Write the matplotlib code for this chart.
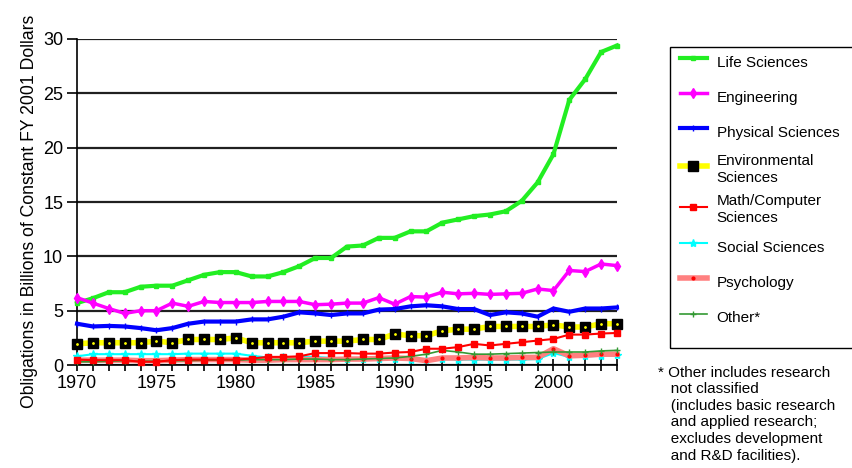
import numpy as np
import matplotlib
matplotlib.use("Agg")
import matplotlib.pyplot as plt
from matplotlib.patches import Rectangle

plt.rcParams['font.family'] = ['Liberation Sans', 'DejaVu Sans']

years = list(range(1970, 2005))

life_sciences = [5.7, 6.15, 6.7, 6.7, 7.2, 7.3, 7.3, 7.8, 8.3, 8.55,
                 8.55, 8.15, 8.15, 8.55, 9.1, 9.85, 9.85, 10.9, 11.0, 11.7,
                 11.7, 12.3, 12.3, 13.1, 13.4, 13.7, 13.85, 14.15, 15.1, 16.8,
                 19.4, 24.4, 26.3, 28.8, 29.4]
engineering = [6.2, 5.7, 5.2, 4.75, 5.0, 5.0, 5.7, 5.4, 5.85, 5.75,
               5.75, 5.75, 5.85, 5.85, 5.85, 5.55, 5.6, 5.7, 5.7, 6.2,
               5.6, 6.3, 6.25, 6.7, 6.55, 6.6, 6.5, 6.55, 6.6, 7.0,
               6.85, 8.7, 8.6, 9.3, 9.15]
physical = [3.8, 3.55, 3.6, 3.55, 3.4, 3.2, 3.4, 3.8, 4.0, 4.0,
            4.0, 4.2, 4.2, 4.45, 4.85, 4.75, 4.6, 4.75, 4.75, 5.1,
            5.15, 5.4, 5.5, 5.4, 5.15, 5.15, 4.6, 4.85, 4.75, 4.45,
            5.2, 4.9, 5.2, 5.2, 5.3]
environmental = [1.95, 2.05, 2.05, 2.05, 2.05, 2.2, 2.05, 2.35, 2.35, 2.35,
                 2.5, 2.05, 2.05, 2.05, 2.05, 2.2, 2.2, 2.2, 2.35, 2.35,
                 2.85, 2.7, 2.7, 3.15, 3.3, 3.3, 3.55, 3.55, 3.55, 3.55,
                 3.7, 3.5, 3.5, 3.8, 3.8]
math_computer = [0.5, 0.45, 0.45, 0.45, 0.3, 0.3, 0.45, 0.5, 0.5, 0.5,
                 0.5, 0.6, 0.75, 0.75, 0.8, 1.1, 1.1, 1.1, 1.05, 1.05,
                 1.15, 1.2, 1.5, 1.5, 1.65, 1.95, 1.8, 1.95, 2.1, 2.25,
                 2.4, 2.8, 2.8, 2.9, 2.95]
social = [0.8, 1.0, 1.0, 1.0, 1.0, 1.0, 1.0, 1.05, 1.05, 1.05,
          1.05, 0.85, 0.7, 0.7, 0.75, 0.75, 0.65, 0.6, 0.55, 0.55,
          0.6, 0.5, 0.45, 0.55, 0.5, 0.5, 0.5, 0.5, 0.5, 0.55,
          1.1, 0.75, 0.8, 0.85, 0.9]
psychology = [0.45, 0.45, 0.45, 0.45, 0.4, 0.4, 0.45, 0.5, 0.5, 0.5,
              0.5, 0.45, 0.45, 0.5, 0.5, 0.5, 0.5, 0.55, 0.55, 0.6,
              0.65, 0.6, 0.4, 0.65, 0.65, 0.7, 0.65, 0.65, 0.7, 0.7,
              1.5, 0.85, 0.9, 1.0, 1.0]
other = [0.3, 0.3, 0.35, 0.4, 0.35, 0.35, 0.4, 0.4, 0.45, 0.45,
         0.45, 0.5, 0.5, 0.5, 0.55, 0.55, 0.5, 0.5, 0.55, 0.6,
         0.65, 0.8, 1.0, 1.35, 1.2, 1.0, 1.0, 1.05, 1.1, 1.15,
         1.2, 1.2, 1.2, 1.3, 1.35]

fig = plt.figure(figsize=(8.53, 4.68), dpi=100)
ax = fig.add_axes([0.0903, 0.220, 0.6330, 0.6967])

ax.plot(years, life_sciences, color='#22ee22', lw=3, marker='s', ms=2.5,
        label='Life Sciences', clip_on=False, zorder=5)
ax.plot(years, engineering, color='#ff00ff', lw=2.5, marker='d', ms=5,
        label='Engineering', clip_on=False, zorder=5)
ax.plot(years, physical, color='#0000ff', lw=3, marker='|', ms=4,
        label='Physical Sciences', clip_on=False, zorder=5)
ax.plot(years, environmental, color='#ffff00', lw=4, marker='s', ms=7,
        mfc='black', mec='black', label='Environmental\nSciences',
        clip_on=False, zorder=4)
ax.plot(years, environmental, ls='none', marker='.', ms=2, color='#ffff00',
        clip_on=False, zorder=4)
ax.plot(years, math_computer, color='#ff0000', lw=1.5, marker='s', ms=5,
        label='Math/Computer\nSciences', clip_on=False, zorder=4)
ax.plot(years, social, color='#00ffff', lw=1.5, marker='*', ms=6,
        label='Social Sciences', clip_on=False, zorder=3)
ax.plot(years, psychology, color='#ff8080', lw=4, marker='.', ms=4,
        mfc='#ff0000', mec='#ff0000', label='Psychology', clip_on=False, zorder=3)
ax.plot(years, other, color='#339933', lw=1.2, marker='+', ms=5,
        label='Other*', clip_on=False, zorder=3)

ax.set_xlim(1970, 2004)
ax.set_ylim(0, 30)
ax.set_yticks(np.arange(0, 31, 5))
ax.set_xticks(years, minor=True)
ax.set_xticks(range(1970, 2001, 5))
ax.tick_params(axis='y', length=7, width=1.2, labelsize=13, pad=3)
ax.tick_params(axis='x', which='both', direction='inout', length=9, width=1.2,
               labelsize=13, pad=3)
ax.tick_params(axis='x', which='minor', labelbottom=False)
for s in ['top', 'right']:
    ax.spines[s].set_visible(False)
for s in ['left', 'bottom']:
    ax.spines[s].set_linewidth(1.2)
ax.yaxis.grid(True, color='#202020', lw=1.6)
ax.set_axisbelow(True)

ax.set_ylabel('Obligations in Billions of Constant FY 2001 Dollars',
              fontsize=12.7)
ax.yaxis.set_label_coords(-0.072, 0.472)

W, H = 853, 468
leg = fig.legend(loc='upper left', bbox_to_anchor=(680 / W, 1 - 49 / H),
                 fontsize=11, frameon=False, borderaxespad=0, borderpad=0,
                 handlelength=1.75, handletextpad=0.65, handleheight=2.2,
                 labelspacing=0.62)
for t in leg.get_texts():
    t.set_linespacing(1.25)

# legend frame, running off the right edge like the original
fig.patches.append(Rectangle((670 / W, 1 - 348 / H), 200 / W, 301 / H,
                             transform=fig.transFigure, fill=False,
                             edgecolor='black', lw=1.0))

fig.text(0.771, 0.219, '* Other includes research\n   not classified\n'
         '   (includes basic research\n   and applied research;\n'
         '   excludes development\n   and R&D facilities).',
         fontsize=11, va='top', ha='left', linespacing=1.24)

fig.savefig('out.png', dpi=100)
